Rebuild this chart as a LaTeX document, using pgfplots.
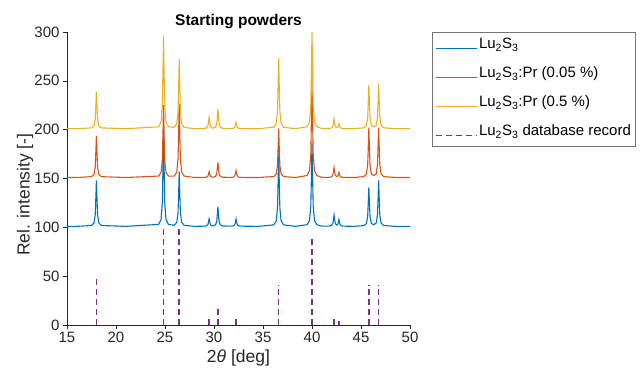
\documentclass[border=0pt]{standalone}
\usepackage{fontspec}
\setmainfont{Liberation Sans}
\usepackage{pgfplots}
\pgfplotsset{compat=1.18}
\definecolor{mblue}{RGB}{0,114,189}
\definecolor{morange}{RGB}{217,83,25}
\definecolor{myellow}{RGB}{237,177,32}
\definecolor{mpurple}{RGB}{126,47,142}
\definecolor{axgray}{RGB}{38,38,38}
\newcommand{\fs}{\fontsize{15bp}{18bp}\selectfont}
\newcommand{\fl}{\fontsize{17.5bp}{20bp}\selectfont}
\pgfplotsset{linelegend/.style={legend image code/.code={\draw[line width=1.3bp,##1] (0bp,-2.5bp) -- (41bp,-2.5bp);}}}
\begin{document}
\begin{tikzpicture}
\begin{axis}[
  scale only axis,
  width=343bp, height=293bp,
  xmin=15, xmax=50, ymin=0, ymax=300,
  xtick={15,20,...,50}, ytick={0,50,...,300},
  axis lines=left,
  axis line style={-, axgray, line width=0.6bp},
  tick style={axgray, line width=0.6bp},
  tick align=outside,
  major tick length=4bp,
  /pgf/number format/assume math mode=true,
  tick label style={font=\fs, text=axgray},
  xlabel={2{\itshape θ} [deg]},
  ylabel={Rel. intensity [-]},
  xlabel style={font=\fl, text=axgray},
  ylabel style={font=\fl, text=axgray, at={(axis description cs:-0.088,0.445)}},
  title={\bfseries Starting powders},
  title style={font=\fontsize{15.5bp}{18bp}\selectfont, yshift=-6bp},
  legend style={at={(axis description cs:1,1)}, anchor=north west, xshift=22bp,
    draw=black!55, fill=white, font=\fs, inner xsep=3bp, inner ysep=4bp,
    row sep=10bp, nodes={inner sep=1.5bp, text height=11bp, text depth=5bp}},
  legend cell align=left,
  linelegend,
  every axis plot/.append style={line width=1.1bp},
]
\addplot[mblue] coordinates {
(15,101) (16,101) (17.5,101.9) (17.75,104.4) (17.88,112.8) (17.95,132) (18,148) (18.05,132) (18.12,112.8) (18.25,104.4) (18.5,101.9)
(21,101) (24.35,103) (24.6,108.2) (24.73,125.8) (24.8,166.3) (24.85,200) (24.9,166.3) (24.97,125.8) (25.1,108.2) (25.35,103)
(25.95,102.1) (26.2,105.1) (26.33,115) (26.4,138) (26.45,157) (26.5,138) (26.57,115) (26.7,105.1) (26.95,102.1)
(28,101) (29,101.2) (29.25,101.6) (29.38,102.9) (29.45,106) (29.5,108.5) (29.55,106) (29.62,102.9) (29.75,101.6) (29.9,101.4) (30.15,102.5) (30.28,106) (30.35,114.2) (30.4,121) (30.45,114.2) (30.52,106) (30.65,102.5) (30.9,101.4)
(31.75,101.2) (32,101.6) (32.13,102.9) (32.2,106) (32.25,108.5) (32.3,106) (32.37,102.9) (32.5,101.6) (32.75,101.2)
(34.5,101) (36.1,102.5) (36.35,106.5) (36.48,119.8) (36.55,150.5) (36.6,176) (36.65,150.5) (36.72,119.8) (36.85,106.5) (37.1,102.5)
(38.3,101) (39.5,102.7) (39.75,107.2) (39.88,122.3) (39.95,157.1) (40,186) (40.05,157.1) (40.12,122.3) (40.25,107.2) (40.5,102.7)
(41,101.2) (41.75,101.3) (42,101.9) (42.13,104) (42.2,108.8) (42.25,112.7) (42.3,108.9) (42.37,104.3) (42.5,102.4) (42.63,103) (42.7,105.9) (42.75,108.2) (42.8,105.7) (42.87,102.8) (43,101.5) (43.25,101.2)
(44.3,101) (45.3,101.8) (45.55,103.9) (45.68,111) (45.75,127.4) (45.8,141) (45.85,127.4) (45.92,111) (46.05,103.9) (46.3,102.7) (46.55,104.4) (46.68,112.8) (46.75,132) (46.8,148) (46.85,132) (46.92,112.8) (47.05,104.4) (47.3,101.9) (48.5,101) (50,101)
};
\addlegendentry{Lu\textsubscript{2}S\textsubscript{3}}
\addplot[morange] coordinates {
(15,151) (16,151) (17.5,151.9) (17.75,154.1) (17.88,161.6) (17.95,179) (18,193.5) (18.05,179) (18.12,161.6) (18.25,154.1) (18.5,151.9)
(21,151) (24.35,152.5) (24.6,156.4) (24.73,169.5) (24.8,199.8) (24.85,225) (24.9,199.8) (24.97,169.5) (25.1,156.4) (25.35,152.5)
(25.95,152.5) (26.2,156.5) (26.33,169.8) (26.4,200.5) (26.45,226) (26.5,200.5) (26.57,169.8) (26.7,156.5) (26.95,152.5)
(28,151) (29,151.1) (29.25,151.4) (29.38,152.5) (29.45,155) (29.5,157) (29.55,155) (29.62,152.5) (29.75,151.4) (29.9,151.4) (30.15,152.1) (30.28,154.9) (30.35,161.2) (30.4,166.5) (30.45,161.2) (30.52,154.9) (30.65,152.1) (30.9,151.3)
(31.75,151.1) (32,151.5) (32.13,152.8) (32.2,155.6) (32.25,158) (32.3,155.6) (32.37,152.8) (32.5,151.5) (32.75,151.1)
(34.5,151) (36.1,152) (36.35,154.7) (36.48,163.5) (36.55,184) (36.6,201) (36.65,184) (36.72,163.5) (36.85,154.7) (37.1,152)
(38.3,151) (39.5,153) (39.75,158.3) (39.88,176) (39.95,217) (40,251) (40.05,217) (40.12,176) (40.25,158.3) (40.5,153)
(41,151.2) (41.75,151.2) (42,151.8) (42.13,153.5) (42.2,157.6) (42.25,161.1) (42.3,157.7) (42.37,153.6) (42.5,152.1) (42.63,152.5) (42.7,154.5) (42.75,156.2) (42.8,154.4) (42.87,152.3) (43,151.4) (43.25,151.1)
(44.3,151) (45.3,152) (45.55,154.7) (45.68,163.8) (45.75,184.7) (45.8,202) (45.85,184.7) (45.92,163.8) (46.05,154.7) (46.3,153) (46.55,154.7) (46.68,163.8) (46.75,184.7) (46.8,202) (46.85,184.7) (46.92,163.8) (47.05,154.7) (47.3,152) (48.5,151) (50,151)
};
\addlegendentry{Lu\textsubscript{2}S\textsubscript{3}:Pr (0.05 \%)}
\addplot[myellow] coordinates {
(15,201) (16,201) (17.5,201.8) (17.75,203.8) (17.88,210.5) (17.95,226) (18,239) (18.05,226) (18.12,210.5) (18.25,203.8) (18.5,201.8)
(21,201) (24.35,202.9) (24.6,207.9) (24.73,224.8) (24.8,263.7) (24.85,296) (24.9,263.7) (24.97,224.8) (25.1,207.9) (25.35,202.9)
(25.95,202.4) (26.2,206.2) (26.33,218.8) (26.4,247.9) (26.45,272) (26.5,247.9) (26.57,218.8) (26.7,206.2) (26.95,202.4)
(28,201) (29,201.2) (29.25,201.9) (29.38,203.9) (29.45,208.7) (29.5,212.6) (29.55,208.7) (29.62,203.9) (29.75,201.9) (29.9,201.6) (30.15,202.5) (30.28,206) (30.35,214.2) (30.4,221) (30.45,214.2) (30.52,206) (30.65,202.5) (30.9,201.4)
(31.75,201.1) (32,201.5) (32.13,202.6) (32.2,205.3) (32.25,207.5) (32.3,205.3) (32.37,202.6) (32.5,201.5) (32.75,201.1)
(34.5,201) (36.1,202.4) (36.35,206.3) (36.48,219) (36.55,248.5) (36.6,273) (36.65,248.5) (36.72,219) (36.85,206.3) (37.1,202.4)
(38.3,201) (39.5,203) (39.75,208.2) (39.88,225.8) (39.95,266.3) (40,300) (40.05,266.3) (40.12,225.8) (40.25,208.2) (40.5,203)
(41,201.2) (41.75,201.2) (42,201.8) (42.13,203.4) (42.2,207.4) (42.25,210.6) (42.3,207.4) (42.37,203.5) (42.5,202.1) (42.63,202.5) (42.7,204.5) (42.75,206.2) (42.8,204.4) (42.87,202.3) (43,201.4) (43.25,201.1)
(44.3,201) (45.3,201.9) (45.55,204.3) (45.68,212.2) (45.75,230.4) (45.8,245.6) (45.85,230.4) (45.92,212.2) (46.05,204.3) (46.3,202.8) (46.55,204.4) (46.68,212.5) (46.75,231.4) (46.8,247) (46.85,231.4) (46.92,212.5) (47.05,204.4) (47.3,201.9) (48.5,201) (50,201)
};
\addlegendentry{Lu\textsubscript{2}S\textsubscript{3}:Pr (0.5 \%)}
\addplot[mpurple, ycomb, line width=1.6bp, dash pattern=on 6bp off 4bp, mark=none, linelegend] coordinates {
(18,48) (24.85,100) (26.45,100) (29.5,7) (30.4,16) (32.25,7) (36.6,41) (40,88) (42.25,6) (42.75,4) (45.8,41) (46.8,41)
};
\addlegendentry{Lu\textsubscript{2}S\textsubscript{3} database record}
\end{axis}
\pgfresetboundingbox
\path[use as bounding box] (-67bp,-50bp) rectangle (577bp,325bp);
\end{tikzpicture}
\end{document}
